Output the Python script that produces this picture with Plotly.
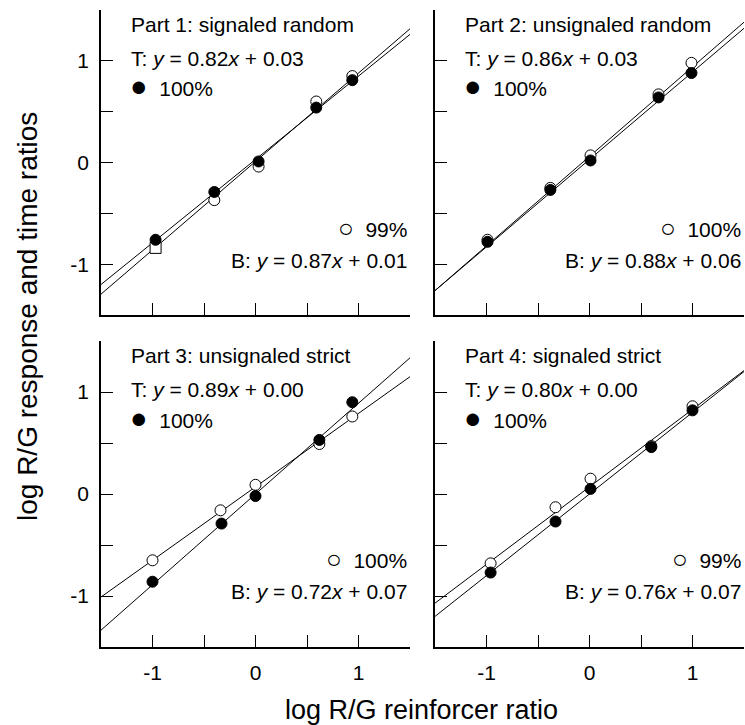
import plotly.graph_objects as go
from plotly.subplots import make_subplots

# ---- data ----
panel_titles = ["Part 1: signaled random", "Part 2: unsignaled random",
                "Part 3: unsignaled strict", "Part 4: signaled strict"]

# T (filled) and B (open) points per panel
t_x = [[-0.97, -0.40, 0.03, 0.59, 0.94],
       [-0.99, -0.38, 0.01, 0.67, 0.99],
       [-1.00, -0.33, 0.00, 0.62, 0.94],
       [-0.96, -0.33, 0.01, 0.60, 1.00]]
t_y = [[-0.76, -0.29, 0.01, 0.54, 0.81],
       [-0.78, -0.27, 0.02, 0.64, 0.88],
       [-0.86, -0.29, -0.02, 0.53, 0.90],
       [-0.77, -0.27, 0.05, 0.46, 0.82]]
b_x = [[-0.97, -0.40, 0.03, 0.59, 0.94],
       [-0.99, -0.38, 0.01, 0.67, 0.99],
       [-1.00, -0.34, 0.00, 0.62, 0.94],
       [-0.96, -0.33, 0.01, 0.60, 1.00]]
b_y = [[-0.84, -0.37, -0.04, 0.60, 0.85],
       [-0.76, -0.25, 0.07, 0.67, 0.98],
       [-0.65, -0.16, 0.09, 0.49, 0.76],
       [-0.68, -0.13, 0.15, 0.47, 0.86]]
b_symbols = [["square", "circle", "circle", "circle", "circle"],
             ["circle"] * 5, ["circle"] * 5, ["circle"] * 5]

t_slope = [0.82, 0.86, 0.89, 0.80]
t_int = [0.03, 0.03, 0.00, 0.00]
b_slope = [0.87, 0.88, 0.72, 0.76]
b_int = [0.01, 0.06, 0.07, 0.07]
t_pct = ["100%", "100%", "100%", "100%"]
b_pct = ["99%", "100%", "100%", "99%"]

x_range = [-1.5, 1.5]
y_range = [-1.5, 1.5]
tick_vals = [-1.5, -1.0, -0.5, 0.0, 0.5, 1.0, 1.5]
tick_text = ["", "-1", "", "0", "", "1", ""]

x_title = "log R/G reinforcer ratio"
y_title = "log R/G response and time ratios"

FONT = "Arial, Liberation Sans, sans-serif"
W, H = 745, 725

fig = make_subplots(rows=2, cols=2)

for i in range(4):
    r, c = i // 2 + 1, i % 2 + 1
    lx = list(x_range)
    fig.add_trace(go.Scatter(x=lx, y=[t_slope[i] * v + t_int[i] for v in lx], mode="lines",
                             line=dict(color="black", width=1), showlegend=False), row=r, col=c)
    fig.add_trace(go.Scatter(x=lx, y=[b_slope[i] * v + b_int[i] for v in lx], mode="lines",
                             line=dict(color="black", width=1), showlegend=False), row=r, col=c)
    fig.add_trace(go.Scatter(x=b_x[i], y=b_y[i], mode="markers",
                             marker=dict(symbol=b_symbols[i], size=11, color="white",
                                         line=dict(color="black", width=1)),
                             showlegend=False, cliponaxis=False), row=r, col=c)
    fig.add_trace(go.Scatter(x=t_x[i], y=t_y[i], mode="markers",
                             marker=dict(symbol="circle", size=11, color="black",
                                         line=dict(color="black", width=1)),
                             showlegend=False, cliponaxis=False), row=r, col=c)

xdom = [[101 / W, 410 / W], [435 / W, 744 / W]]
ydom = [[(H - 315) / H, (H - 10) / H], [(H - 647) / H, (H - 341) / H]]

for i in range(4):
    r, c = i // 2, i % 2
    ax = dict(range=x_range, domain=xdom[c], tickvals=tick_vals,
              ticktext=tick_text if r == 1 else [""] * 7,
              ticks="inside", ticklen=12, tickwidth=1, tickcolor="black",
              showline=True, linecolor="black", linewidth=1.5, mirror=False,
              showgrid=False, zeroline=False, ticklabelstandoff=6,
              tickfont=dict(family=FONT, size=21, color="black"))
    ay = dict(range=y_range, domain=ydom[r], tickvals=tick_vals,
              ticktext=tick_text if c == 0 else [""] * 7,
              ticks="inside", ticklen=12, tickwidth=1, tickcolor="black",
              showline=True, linecolor="black", linewidth=1.5, mirror=False,
              showgrid=False, zeroline=False, ticklabelstandoff=6,
              tickfont=dict(family=FONT, size=21, color="black"))
    sfx = "" if i == 0 else str(i + 1)
    fig.update_layout(**{"xaxis" + sfx: ax, "yaxis" + sfx: ay})

    xr, yr = "x" + sfx, "y" + sfx
    f = dict(family=FONT, size=21, color="black")
    fig.add_annotation(x=-1.23, y=1.36, xref=xr, yref=yr, text=panel_titles[i],
                       showarrow=False, xanchor="left", yanchor="middle", font=f)
    fig.add_annotation(x=-1.23, y=1.02, xref=xr, yref=yr,
                       text="T: <i>y</i> = %.2f<i>x</i> + %.2f" % (t_slope[i], t_int[i]),
                       showarrow=False, xanchor="left", yanchor="middle", font=f)
    fig.add_annotation(x=-1.24, y=0.75, xref=xr, yref=yr,
                       text="<span style='font-size:29px'>\u25CF</span>  " + t_pct[i],
                       showarrow=False, xanchor="left", yanchor="middle", font=f)
    fig.add_annotation(x=1.49, y=-0.64, xref=xr, yref=yr,
                       text="<span style='font-size:26px'>\u25CB</span>  " + b_pct[i],
                       showarrow=False, xanchor="right", yanchor="middle", font=f)
    fig.add_annotation(x=1.49, y=-0.96, xref=xr, yref=yr,
                       text="B: <i>y</i> = %.2f<i>x</i> + %.2f" % (b_slope[i], b_int[i]),
                       showarrow=False, xanchor="right", yanchor="middle", font=f)

fig.add_annotation(x=421.7 / W, y=(H - 710) / H, xref="paper", yref="paper", text=x_title,
                   showarrow=False, xanchor="center", yanchor="middle",
                   font=dict(family=FONT, size=27, color="black"))
fig.add_annotation(x=27 / W, y=(H - 317) / H, xref="paper", yref="paper", text=y_title,
                   showarrow=False, xanchor="center", yanchor="middle", textangle=-90,
                   font=dict(family=FONT, size=28, color="black"))

fig.update_layout(width=W, height=H, margin=dict(l=0, r=0, t=0, b=0),
                  paper_bgcolor="white", plot_bgcolor="white")

fig.write_html("out.html")
